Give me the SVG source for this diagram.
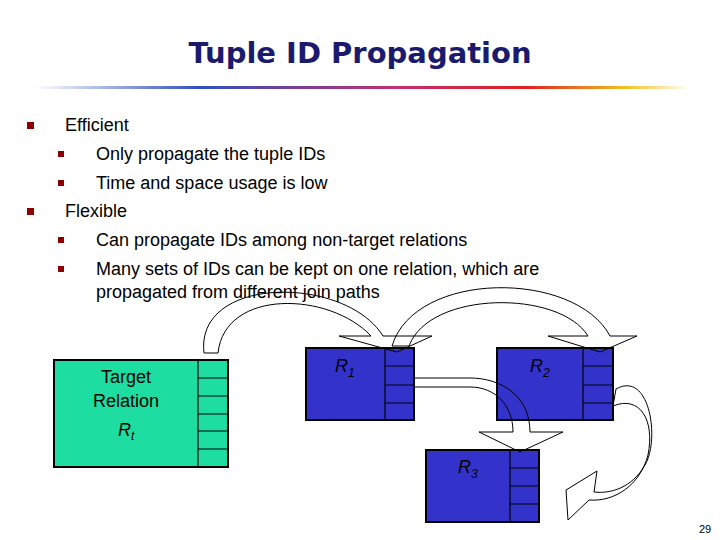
<svg xmlns="http://www.w3.org/2000/svg" width="720" height="540" viewBox="0 0 720 540">
<defs>
<linearGradient id="ul" x1="0" x2="1" y1="0" y2="0">
<stop offset="0" stop-color="#fff"/><stop offset="0.25" stop-color="#3050c0"/><stop offset="0.55" stop-color="#c03070"/><stop offset="0.75" stop-color="#e02020"/><stop offset="0.9" stop-color="#f0c020"/><stop offset="1" stop-color="#fff"/>
</linearGradient>
</defs>
<style>
text{font-family:"Liberation Sans",Arial,sans-serif;fill:#000}
.t{font-size:18px}
.b{fill:#8b0000}
.rel{fill:#3333cc;stroke:#000;stroke-width:2}
.tgt{fill:#1ddea0;stroke:#000;stroke-width:2}
.ln{stroke:#000;stroke-width:1.2;fill:none}
.arr{fill:none;stroke:#000;stroke-width:1}
.lab{font-size:18px;font-style:italic}
</style>
<rect width="720" height="540" fill="#fff"/>
<text x="360" y="63" text-anchor="middle" style="font-family:'DejaVu Sans',sans-serif;font-weight:bold;font-size:29px;fill:#1a1a6e">Tuple ID Propagation</text>
<rect x="35" y="86" width="655" height="3" fill="url(#ul)"/>
<g id="bullets">
<rect class="b" x="27" y="122" width="7" height="7"/><text class="t" x="65" y="131">Efficient</text>
<rect class="b" x="58" y="151" width="6" height="6"/><text class="t" x="96" y="160">Only propagate the tuple IDs</text>
<rect class="b" x="58" y="180" width="6" height="6"/><text class="t" x="96" y="189">Time and space usage is low</text>
<rect class="b" x="27" y="208" width="7" height="7"/><text class="t" x="65" y="217">Flexible</text>
<rect class="b" x="58" y="237" width="6" height="6"/><text class="t" x="96" y="246">Can propagate IDs among non-target relations</text>
<rect class="b" x="58" y="266" width="6" height="6"/><text class="t" x="96" y="275">Many sets of IDs can be kept on one relation, which are</text>
<text class="t" x="96" y="298">propagated from different join paths</text>
</g>
<g id="target">
<rect class="tgt" x="54" y="360" width="174" height="107"/>
<path class="ln" d="M198,360V467M198,378H228M198,396H228M198,414H228M198,431H228M198,449H228"/>
<text x="126" y="383" text-anchor="middle" class="t">Target</text>
<text x="126" y="407" text-anchor="middle" class="t">Relation</text>
<text x="118" y="436" class="lab">R<tspan font-size="12" dy="4">t</tspan></text>
</g>
<g id="r1">
<rect class="rel" x="306" y="348" width="108" height="72"/>
<path class="ln" d="M385,348V420M385,366H414M385,385H414M385,403H414"/>
<text x="335" y="372" class="lab">R<tspan font-size="12" dy="5">1</tspan></text>
</g>
<g id="r2">
<rect class="rel" x="497" y="348" width="116" height="72"/>
<path class="ln" d="M583,348V420M583,366H613M583,385H613M583,403H613"/>
<text x="530" y="372" class="lab">R<tspan font-size="12" dy="5">2</tspan></text>
</g>
<g id="r3">
<rect class="rel" x="426" y="450" width="113" height="72"/>
<path class="ln" d="M510,450V522M510,468H539M510,486H539M510,504H539"/>
<text x="458" y="473" class="lab">R<tspan font-size="12" dy="5">3</tspan></text>
</g>
<g id="connectors">
<path class="arr" d="M204,353 C195,275 345,275 383,336 L432,336 L397,352 L339,336 L371,336 C330,292 225,288 218,353 Z"/>
<path class="arr" d="M392,346 C415,270 575,270 610,336 L637,336 L600,352 L548,336 L588,336 C560,290 430,290 409,346 Z"/>
<path class="arr" d="M414,378 L470,378 C500,378 530,395 530,432 L563,432 L520,452 L479,432 L513,432 C513,405 495,387 470,387 L414,387 Z"/>
<path class="arr" d="M616,389 C650,370 660,440 645,465 C632,488 610,494 594,492 L597,471 L566,490 L568,520 L589,500 C615,502 640,485 648,455 C655,420 640,395 613,406 Z"/>
</g>
<text x="705" y="533" text-anchor="middle" style="font-size:11px">29</text>
</svg>
